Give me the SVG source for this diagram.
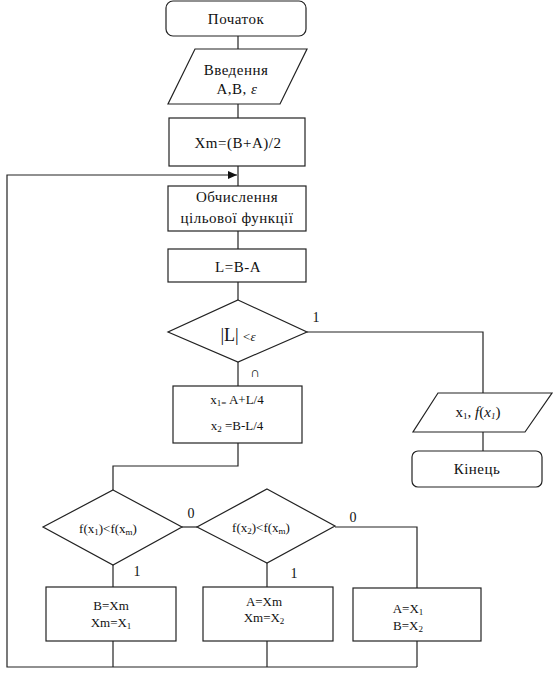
<svg xmlns="http://www.w3.org/2000/svg" width="555" height="684" viewBox="0 0 555 684">
<style>
.sh{fill:#fff;stroke:#222;stroke-width:1.2}
.ln{fill:none;stroke:#222;stroke-width:1.2}
text{fill:#111;font-family:Liberation Serif, Times New Roman, serif;font-weight:normal}
.t{font-size:15px;text-anchor:middle;letter-spacing:0.5px}
.s{font-size:13px;text-anchor:middle}
.lb{font-size:14px;text-anchor:middle}
.sub{font-size:9px}
</style>
<defs>
<marker id="ar" markerWidth="9" markerHeight="8" refX="9" refY="4" orient="auto" markerUnits="userSpaceOnUse">
<path d="M0,0 L9,4 L0,8 Z" fill="#111"/>
</marker>
</defs>
<g id="connectors">
<path class="ln" d="M238,36 V49"/>
<path class="ln" d="M238,104 V118"/>
<path class="ln" d="M238,166 V186"/>
<path class="ln" d="M238,231 V249"/>
<path class="ln" d="M238,282 V300"/>
<path class="ln" d="M238,362 V386"/>
<path class="ln" d="M307,332 H483 V393"/>
<path class="ln" d="M483,432 V451"/>
<path class="ln" d="M238,443 V466 H113 V490"/>
<path class="ln" d="M113,565 V587"/>
<path class="ln" d="M182,527 H197"/>
<path class="ln" d="M267,563 V587"/>
<path class="ln" d="M335,527 H417 V588"/>
<path class="ln" d="M113,641 V667"/>
<path class="ln" d="M267,641 V667"/>
<path class="ln" d="M417,641 V667"/>
<path class="ln" d="M417,667 H7 V175 H237" marker-end="url(#ar)"/>
</g>
<g id="start">
<rect class="sh" x="166" y="1" width="140" height="35" rx="7"/>
<text class="t" x="236" y="24" font-family="Liberation Serif">Початок</text>
</g>
<g id="input">
<polygon class="sh" points="195,49 307,49 280,104 168,104"/>
<text class="t" x="236" y="75">Введення</text>
<text class="t" x="237" y="94">A,B, <tspan font-style="italic">ε</tspan></text>
</g>
<g id="xm">
<rect class="sh" x="169" y="118" width="136" height="48"/>
<text class="t" x="238" y="148">Xm=(B+A)/2</text>
</g>
<g id="calc">
<rect class="sh" x="168" y="186" width="138" height="45"/>
<text class="t" x="237" y="202">Обчислення</text>
<text class="t" x="237" y="223">цільової функції</text>
</g>
<g id="len">
<rect class="sh" x="168" y="249" width="138" height="33"/>
<text class="t" x="238" y="272">L=B-A</text>
</g>
<g id="cond">
<polygon class="sh" points="238,300 307,332 238,362 168,332"/>
<text x="238" y="341" style="text-anchor:middle;font-size:18px">|L| <tspan font-size="13px">&lt;<tspan font-style="italic">ε</tspan></tspan></text>
<text class="lb" x="316" y="322">1</text>
<text class="lb" x="255" y="377">∩</text>
</g>
<g id="points">
<rect class="sh" x="173" y="386" width="129" height="57"/>
<text class="s" x="237" y="404">x<tspan class="sub" dy="2">1=</tspan><tspan dy="-2"> A+L/4</tspan></text>
<text class="s" x="237" y="430">x<tspan class="sub" dy="2">2</tspan><tspan dy="-2"> =B-L/4</tspan></text>
</g>
<g id="output">
<polygon class="sh" points="438,393 552,393 525,432 413,432"/>
<text class="t" x="478" y="417" style="letter-spacing:0">x<tspan class="sub" dy="2">1</tspan><tspan dy="-2">, </tspan><tspan font-style="italic">f</tspan>(<tspan font-style="italic">x<tspan class="sub" dy="2">1</tspan></tspan><tspan dy="-2">)</tspan></text>
</g>
<g id="end">
<rect class="sh" x="412" y="451" width="130" height="36" rx="6"/>
<text class="t" x="477" y="474">Кінець</text>
</g>
<g id="cmp1">
<polygon class="sh" points="113,490 182,527 113,565 43,527"/>
<text class="s" x="108" y="533">f(x<tspan class="sub" dy="2">1</tspan><tspan dy="-2">)&lt;f(x</tspan><tspan class="sub" dy="2">m</tspan><tspan dy="-2">)</tspan></text>
<text class="lb" x="191" y="518">0</text>
<text class="lb" x="137" y="576">1</text>
</g>
<g id="cmp2">
<polygon class="sh" points="267,489 335,526 267,563 197,527"/>
<text class="s" x="261" y="532">f(x<tspan class="sub" dy="2">2</tspan><tspan dy="-2">)&lt;f(x</tspan><tspan class="sub" dy="2">m</tspan><tspan dy="-2">)</tspan></text>
<text class="lb" x="353" y="522">0</text>
<text class="lb" x="294" y="578">1</text>
</g>
<g id="set1">
<rect class="sh" x="46" y="587" width="130" height="54"/>
<text class="s" x="111" y="610">B=Xm</text>
<text class="s" x="111" y="627">Xm=X<tspan class="sub" dy="2">1</tspan></text>
</g>
<g id="set2">
<rect class="sh" x="203" y="587" width="130" height="54"/>
<text class="s" x="264" y="606">A=Xm</text>
<text class="s" x="264" y="622">Xm=X<tspan class="sub" dy="2">2</tspan></text>
</g>
<g id="set3">
<rect class="sh" x="353" y="588" width="128" height="53"/>
<text class="s" x="408" y="613">A=X<tspan class="sub" dy="2">1</tspan></text>
<text class="s" x="408" y="630">B=X<tspan class="sub" dy="2">2</tspan></text>
</g>
</svg>
